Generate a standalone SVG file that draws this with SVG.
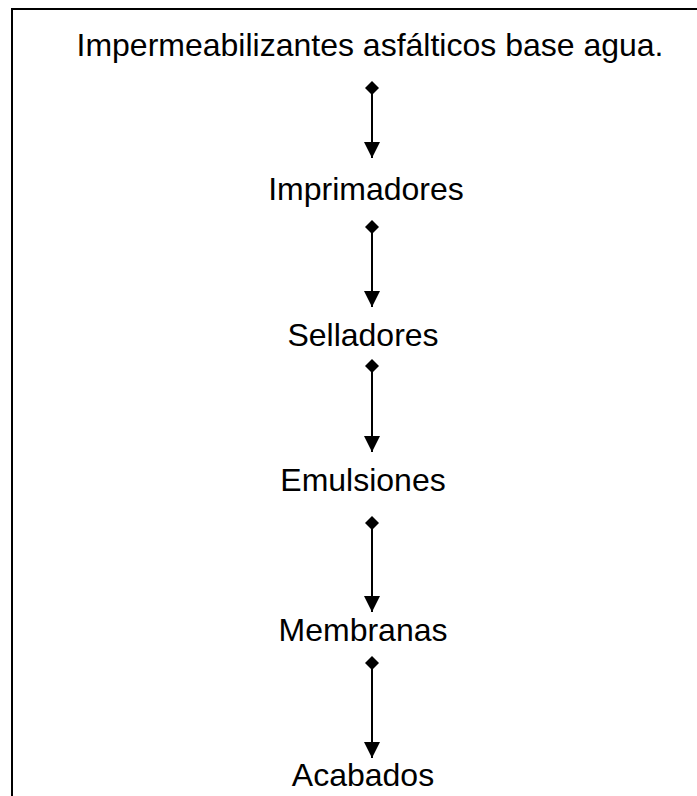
<svg xmlns="http://www.w3.org/2000/svg" width="697" height="796" viewBox="0 0 697 796">
<defs>
<style>
.t{font-family:"Liberation Sans",Arial,sans-serif;font-size:32px;fill:#000;text-anchor:middle}
.c{stroke:#000;stroke-width:2;fill:none}
</style>
<marker id="dia" viewBox="0 0 14 14" refX="7" refY="7" markerWidth="14" markerHeight="14" markerUnits="userSpaceOnUse" orient="auto">
<path d="M0,7 L7,0 L14,7 L7,14 Z" fill="#000"/>
</marker>
<marker id="arr" viewBox="0 0 16 16" refX="16" refY="8" markerWidth="16" markerHeight="16" markerUnits="userSpaceOnUse" orient="auto">
<path d="M0,0 L16,8 L0,16 Z" fill="#000"/>
</marker>
</defs>
<rect width="697" height="796" fill="#fff"/>
<path d="M12,820 L12,9 L720,9" stroke="#000" stroke-width="2" fill="none"/>
<g id="n0"><text class="t" x="370" y="56">Impermeabilizantes asfálticos base agua.</text></g>
<g id="n1"><text class="t" x="366" y="200">Imprimadores</text></g>
<g id="n2"><text class="t" x="363" y="346">Selladores</text></g>
<g id="n3"><text class="t" x="363" y="491">Emulsiones</text></g>
<g id="n4"><text class="t" x="363" y="641">Membranas</text></g>
<g id="n5"><text class="t" x="363" y="786">Acabados</text></g>
<g id="connectors">
<line class="c" x1="372" y1="88" x2="372" y2="158" marker-start="url(#dia)" marker-end="url(#arr)"/>
<line class="c" x1="372" y1="227" x2="372" y2="307" marker-start="url(#dia)" marker-end="url(#arr)"/>
<line class="c" x1="372" y1="366" x2="372" y2="452" marker-start="url(#dia)" marker-end="url(#arr)"/>
<line class="c" x1="372" y1="523" x2="372" y2="612" marker-start="url(#dia)" marker-end="url(#arr)"/>
<line class="c" x1="372" y1="663" x2="372" y2="758" marker-start="url(#dia)" marker-end="url(#arr)"/>
</g>
</svg>
